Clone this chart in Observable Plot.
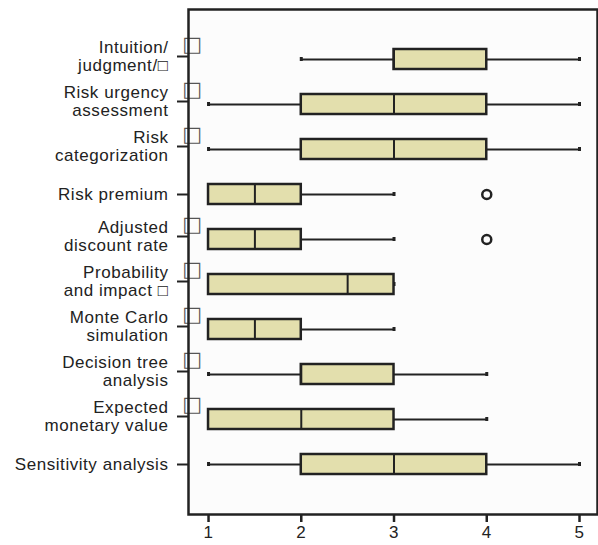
<!DOCTYPE html>
<html>
<head>
<meta charset="utf-8">
<script src="https://cdn.jsdelivr.net/npm/d3@7"></script>
<script src="https://cdn.jsdelivr.net/npm/@observablehq/plot@0.6"></script>
<style>
  html, body { margin: 0; padding: 0; background: #ffffff; }
  #chart svg { display: block; }
  #chart svg text { letter-spacing: 0.55px; }
</style>
</head>
<body>
<div id="chart"></div>
<script>
// Categories (top to bottom), with the label text as shown
const categories = [
  "Intuition/\njudgment/\u25A1",
  "Risk urgency\nassessment",
  "Risk\ncategorization",
  "Risk premium",
  "Adjusted\ndiscount rate",
  "Probability\nand impact \u25A1",
  "Monte Carlo\nsimulation",
  "Decision tree\nanalysis",
  "Expected\nmonetary value",
  "Sensitivity analysis"
];
// Five-number summaries
const mins    = [2, 1, 1, 1,   1,   1,   1,   1, 1, 1];
const q1s     = [3, 2, 2, 1,   1,   1,   1,   2, 1, 2];
const medians = [3, 3, 3, 1.5, 1.5, 2.5, 1.5, 2, 2, 3];
const q3s     = [4, 4, 4, 2,   2,   3,   2,   3, 3, 4];
const maxs    = [5, 5, 5, 3,   3,   3,   3,   4, 4, 5];
// Outliers
const outlierCats   = ["Risk premium", "Adjusted\ndiscount rate"];
const outlierValues = [4, 4];
// Rows carrying a stray unrendered glyph next to the axis
const strayGlyphRows = [
  "Intuition/\njudgment/\u25A1",
  "Risk urgency\nassessment",
  "Risk\ncategorization",
  "Adjusted\ndiscount rate",
  "Probability\nand impact \u25A1",
  "Monte Carlo\nsimulation",
  "Decision tree\nanalysis",
  "Expected\nmonetary value"
];
const xTicks = [1, 2, 3, 4, 5];

const rows = categories.map((c, i) => ({
  cat: c, min: mins[i], q1: q1s[i], med: medians[i], q3: q3s[i], max: maxs[i]
}));
const outliers = outlierCats.map((c, i) => ({cat: c, v: outlierValues[i]}));
const strays = strayGlyphRows.map(c => ({cat: c}));
const singleLine = categories.filter(c => !c.includes("\n"));
const multiLine = categories.filter(c => c.includes("\n"));

const ink = "#222222";
const chart = Plot.plot({
  width: 598,
  height: 545,
  marginTop: 9,
  marginBottom: 31,
  marginLeft: 188,
  marginRight: 1,
  style: {fontFamily: "'Liberation Sans', Arial, sans-serif", fontSize: "17px", color: ink, background: "#ffffff"},
  x: {domain: [0.784, 5.194]},
  y: {type: "band", domain: categories, paddingInner: 0.559, paddingOuter: 0.838, align: 0.5},
  marks: [
    Plot.frame({fill: "#fcfcfc", stroke: "none"}),
    Plot.ruleY(rows, {y: "cat", x1: "min", x2: "max", stroke: ink, strokeWidth: 2}),
    Plot.tickX(rows, {y: "cat", x: "min", stroke: ink, strokeWidth: 3, insetTop: 8, insetBottom: 8}),
    Plot.tickX(rows, {y: "cat", x: "max", stroke: ink, strokeWidth: 3, insetTop: 8, insetBottom: 8}),
    Plot.barX(rows, {y: "cat", x1: "q1", x2: "q3", fill: "#e3dfad", stroke: ink, strokeWidth: 2.5}),
    Plot.tickX(rows, {y: "cat", x: "med", stroke: ink, strokeWidth: 2}),
    Plot.dot(outliers, {y: "cat", x: "v", r: 4.5, stroke: ink, strokeWidth: 2.5, fill: "none"}),
    Plot.text(strays, {y: "cat", frameAnchor: "left", textAnchor: "middle", dx: 4, dy: -15, text: () => "\u25A1", fontSize: 21, fill: "#555", fontFamily: "'DejaVu Sans', sans-serif"}),
    Plot.axisY({ticks: singleLine, tickSize: 11, tickPadding: 9, strokeWidth: 2, stroke: ink, fill: ink, fontSize: 17, label: null}),
    Plot.axisY({ticks: multiLine, tickSize: 11, tickPadding: 9, strokeWidth: 2, stroke: ink, fill: ink, fontSize: 17, lineHeight: 1.05, dy: -3, label: null}),
    Plot.axisX({ticks: xTicks, tickSize: 8, tickPadding: 3, strokeWidth: 2.5, stroke: ink, fill: ink, fontSize: 17, label: null, tickFormat: d => String(d)}),
    Plot.frame({stroke: ink, strokeWidth: 2.5})
  ]
});
document.getElementById("chart").appendChild(chart);
</script>
</body>
</html>
